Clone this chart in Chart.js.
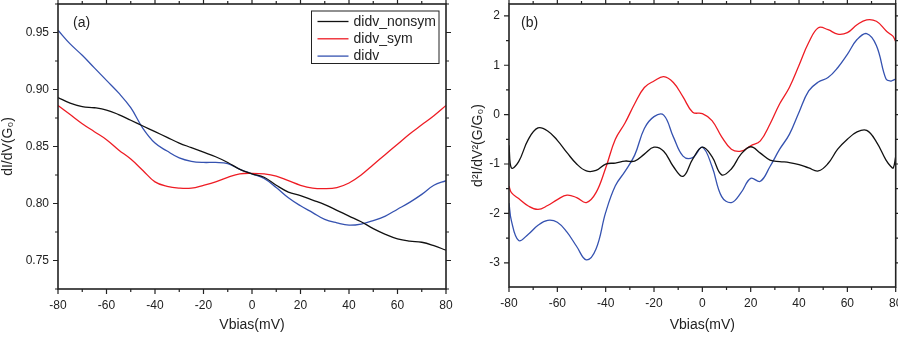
<!DOCTYPE html>
<html>
<head>
<meta charset="utf-8">
<script src="https://cdn.jsdelivr.net/npm/chart.js@4"></script>
<style>
  html, body { margin: 0; padding: 0; background: #fff; }
  #wrap { position: relative; width: 898px; height: 339px; overflow: hidden; }
  canvas { position: absolute; top: 0; }
</style>
</head>
<body>
<div id="wrap">
  <canvas id="chartA" width="460" height="339" style="left:0"></canvas>
  <canvas id="chartB" width="438" height="339" style="left:460px"></canvas>
</div>
<script>
// ---- data: panel (a), dI/dV ----
const leftV = [-80, -75, -70, -65, -60, -55, -50, -45, -40, -35, -30, -25, -20, -15, -10, -5,
               0, 5, 10, 15, 20, 25, 30, 35, 40, 45, 50, 55, 60, 65, 70, 75, 80];
const didvNonsymA = [0.893, 0.888, 0.885, 0.884, 0.882, 0.878, 0.873, 0.868, 0.863, 0.858, 0.853,
                     0.849, 0.845, 0.841, 0.836, 0.830, 0.826, 0.823, 0.816, 0.810, 0.807, 0.803,
                     0.799, 0.794, 0.789, 0.784, 0.778, 0.773, 0.769, 0.767, 0.766, 0.763, 0.759];
const didvSymA = [0.886, 0.878, 0.870, 0.863, 0.856, 0.847, 0.839, 0.829, 0.819, 0.815, 0.8135,
                  0.8135, 0.816, 0.819, 0.823, 0.826, 0.8265, 0.826, 0.824, 0.820, 0.816, 0.8135,
                  0.813, 0.814, 0.818, 0.825, 0.834, 0.843, 0.852, 0.861, 0.869, 0.877, 0.886];
const didvA = [0.952, 0.940, 0.930, 0.919, 0.908, 0.897, 0.884, 0.866, 0.853, 0.846, 0.840,
               0.837, 0.836, 0.836, 0.835, 0.830, 0.826, 0.822, 0.814, 0.805, 0.798, 0.792,
               0.786, 0.783, 0.781, 0.782, 0.785, 0.789, 0.795, 0.801, 0.808, 0.816, 0.820];

// ---- data: panel (b), d2I/dV2 ----
const rightV = [-80, -79, -76, -72, -68, -64, -60, -56, -52, -48, -44, -40, -36, -32, -28, -24,
                -20, -16, -12, -8, -4, 0, 4, 8, 12, 16, 20, 24, 28, 32, 36, 40, 44, 48, 52, 56,
                60, 64, 68, 72, 76, 78, 79, 80];
const d2NonsymB = [-0.62, -1.08, -0.95, -0.50, -0.27, -0.33, -0.52, -0.77, -1.00, -1.14, -1.13,
                   -1.00, -0.98, -0.94, -0.94, -0.80, -0.66, -0.74, -1.05, -1.25, -0.90, -0.66,
                   -0.85, -1.22, -1.10, -0.80, -0.65, -0.78, -0.92, -0.95, -0.97, -1.01, -1.08,
                   -1.14, -0.99, -0.70, -0.50, -0.35, -0.32, -0.55, -0.92, -1.05, -1.08, -0.85];
const d2SymB = [-1.45, -1.58, -1.70, -1.85, -1.92, -1.84, -1.72, -1.63, -1.68, -1.78, -1.58,
                -1.08, -0.50, -0.17, 0.22, 0.55, 0.68, 0.77, 0.65, 0.36, 0.05, 0.02, -0.12,
                -0.45, -0.70, -0.74, -0.63, -0.53, -0.19, 0.22, 0.55, 1.00, 1.46, 1.76, 1.72,
                1.63, 1.66, 1.82, 1.92, 1.89, 1.70, 1.62, 1.58, 1.48];
const d2B = [-1.79, -2.15, -2.55, -2.42, -2.24, -2.14, -2.18, -2.38, -2.67, -2.94, -2.72,
             -1.98, -1.44, -1.15, -0.82, -0.28, -0.04, -0.01, -0.45, -0.84, -0.87, -0.66,
             -1.05, -1.66, -1.78, -1.58, -1.29, -1.35, -1.05, -0.70, -0.40, 0.05, 0.48, 0.66,
             0.75, 0.95, 1.22, 1.52, 1.64, 1.40, 0.72, 0.68, 0.70, 0.72];

// ---- tick labels ----
const xTicks = [-80, -60, -40, -20, 0, 20, 40, 60, 80];
const leftYTicks = [0.75, 0.80, 0.85, 0.90, 0.95];
const rightYTicks = [-3, -2, -1, 0, 1, 2];
const seriesNames = ['didv_nonsym', 'didv_sym', 'didv'];
const seriesColors = ['#111111', '#ee1c24', '#3552b0'];

const FONT = '"Liberation Sans", Arial, sans-serif';

function toPoints(xs, ys) {
    return xs.map((x, i) => ({ x: x, y: ys[i] }));
}

function makeDatasets(xs, series) {
    return series.map((ys, i) => ({
        label: seriesNames[i],
        data: toPoints(xs, ys),
        borderColor: seriesColors[i],
        borderWidth: 1.3,
        pointRadius: 0,
        tension: 0.4,
        fill: false
    }));
}

// frame with major/minor ticks on all four sides (Origin style)
const framePlugin = {
    id: 'frame',
    afterDraw(chart, args, opts) {
        const ctx = chart.ctx;
        const a = chart.chartArea;
        const xs = chart.scales.x, ys = chart.scales.y;
        ctx.save();
        ctx.strokeStyle = '#222';
        ctx.lineWidth = 1.6;
        ctx.strokeRect(a.left, a.top, a.right - a.left, a.bottom - a.top);
        ctx.lineWidth = 1.2;
        ctx.beginPath();
        const xStep = opts.xStep;
        for (let v = xs.min; v <= xs.max + 1e-9; v += xStep / 2) {
            const major = Math.abs(Math.round(v / xStep) * xStep - v) < 1e-6;
            const len = major ? 5 : 3;
            const p = xs.getPixelForValue(v);
            ctx.moveTo(p, a.bottom); ctx.lineTo(p, a.bottom + len);
            ctx.moveTo(p, a.top); ctx.lineTo(p, a.top - len);
        }
        const yStep = opts.yStep;
        const start = Math.ceil(ys.min / (yStep / 2) - 1e-6) * (yStep / 2);
        for (let v = start; v <= ys.max + 1e-9; v += yStep / 2) {
            const major = Math.abs(Math.round(v / yStep) * yStep - v) < 1e-6;
            const len = major ? 5 : 3;
            const p = ys.getPixelForValue(v);
            ctx.moveTo(a.left, p); ctx.lineTo(a.left - len, p);
            ctx.moveTo(a.right, p); ctx.lineTo(a.right + len, p);
        }
        ctx.stroke();
        // panel tag
        ctx.fillStyle = '#222';
        ctx.font = '14px ' + FONT;
        ctx.textBaseline = 'middle';
        ctx.textAlign = 'left';
        ctx.fillText(opts.tag, a.left + opts.tagDx, a.top + 19);
        ctx.restore();
    }
};

// boxed legend inside panel (a)
const boxLegend = {
    id: 'boxLegend',
    afterDraw(chart, args, opts) {
        if (!opts.show) return;
        const ctx = chart.ctx;
        const x0 = 311.5, y0 = 11, w = 127.5, h = 52.5;
        ctx.save();
        ctx.fillStyle = '#fff';
        ctx.fillRect(x0, y0, w, h);
        ctx.strokeStyle = '#222';
        ctx.lineWidth = 1;
        ctx.strokeRect(x0, y0, w, h);
        ctx.font = '14px ' + FONT;
        ctx.textBaseline = 'middle';
        ctx.textAlign = 'left';
        chart.data.datasets.forEach((ds, i) => {
            const y = y0 + 10.5 + i * 17.3;
            ctx.strokeStyle = ds.borderColor;
            ctx.lineWidth = 1.3;
            ctx.beginPath();
            ctx.moveTo(x0 + 6, y); ctx.lineTo(x0 + 37, y);
            ctx.stroke();
            ctx.fillStyle = '#222';
            ctx.fillText(ds.label, x0 + 42, y + 0.5);
        });
        ctx.restore();
    }
};

function makeOptions(cfg) {
    return {
        responsive: false,
        animation: false,
        devicePixelRatio: 1,
        layout: { padding: cfg.padding },
        plugins: {
            legend: { display: false },
            tooltip: { enabled: false },
            frame: { xStep: 20, yStep: cfg.yStep, tag: cfg.tag, tagDx: cfg.tagDx },
            boxLegend: { show: cfg.legend }
        },
        scales: {
            x: {
                type: 'linear',
                min: -80, max: 80,
                afterBuildTicks: s => { s.ticks = xTicks.map(v => ({ value: v })); },
                afterFit: s => { s.height = cfg.xHeight; s.paddingLeft = 0; s.paddingRight = 0; },
                grid: { display: true, drawOnChartArea: false, drawTicks: false },
                border: { display: false },
                ticks: { padding: 9, color: '#222', font: { size: 12, family: FONT }, maxRotation: 0 },
                title: { display: true, text: 'Vbias(mV)', color: '#222', padding: 5,
                         font: { size: 14, family: FONT } }
            },
            y: {
                type: 'linear',
                min: cfg.yMin, max: cfg.yMax,
                afterBuildTicks: s => { s.ticks = cfg.yTicks.map(v => ({ value: v })); },
                afterFit: s => { s.width = cfg.yWidth; s.paddingTop = 0; s.paddingBottom = 0; },
                grid: { display: true, drawOnChartArea: false, drawTicks: false },
                border: { display: false },
                ticks: { padding: 9, color: '#222', font: { size: 12, family: FONT },
                         callback: cfg.yFormat },
                title: { display: true, text: cfg.yTitle, color: '#222', padding: 0,
                         font: { size: 14, family: FONT } }
            }
        }
    };
}

new Chart(document.getElementById('chartA').getContext('2d'), {
    type: 'line',
    data: { datasets: makeDatasets(leftV, [didvNonsymA, didvSymA, didvA]) },
    options: makeOptions({
        padding: { left: 0, top: 4, right: 14, bottom: 0 },
        xHeight: 50, yWidth: 58,
        yMin: 0.725, yMax: 0.975, yStep: 0.05, yTicks: leftYTicks,
        yFormat: v => Number(v).toFixed(2),
        yTitle: 'dI/dV(G₀)', tag: '(a)', tagDx: 15, legend: true
    }),
    plugins: [framePlugin, boxLegend]
});

new Chart(document.getElementById('chartB').getContext('2d'), {
    type: 'line',
    data: { datasets: makeDatasets(rightV, [d2NonsymB, d2SymB, d2B]) },
    options: makeOptions({
        padding: { left: 10, top: 4, right: 2.3, bottom: 0 },
        xHeight: 52, yWidth: 39,
        yMin: -3.49, yMax: 2.24, yStep: 1, yTicks: rightYTicks,
        yFormat: v => String(v),
        yTitle: 'd²I/dV²(G/G₀)', tag: '(b)', tagDx: 12, legend: false
    }),
    plugins: [framePlugin, boxLegend]
});
</script>
</body>
</html>
